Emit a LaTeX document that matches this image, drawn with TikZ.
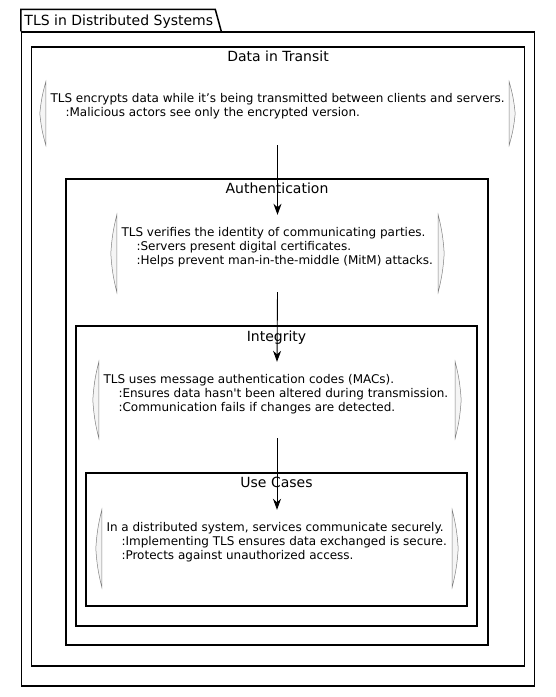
\documentclass[tikz,border=0pt]{standalone}
\usepackage{fontspec}
\setmainfont{DejaVu Sans}
\usetikzlibrary{arrows.meta, positioning, calc}

\newcommand{\ind}{\hspace*{15pt}}

\begin{document}
\begin{tikzpicture}[
    x=1pt, y=-1pt,
    frame/.style={draw=black, line width=1.5pt, rectangle, inner sep=0pt},
    frametitle/.style={font=\fontsize{14}{16}\selectfont, inner sep=0pt},
    note/.style={rectangle, inner sep=0pt},
    notetext/.style={font=\fontsize{12}{14}\selectfont, align=left, inner sep=0pt, anchor=north west},
    bracket/.style={draw=black!50, fill=black!4, line width=0.5pt},
    flow/.style={-{Stealth[length=11pt, width=8pt, inset=3.5pt]}, line width=0.9pt}
]
\useasboundingbox (0,0) rectangle (555,697);

% --- Package: TLS in Distributed Systems ---
\node[frame, minimum width=513pt, minimum height=654pt] (pkg) at (278,359) {};
\draw[frame] (pkg.north west) -- ++(0,-22) -- ++(194.5,0) -- ++(6,22);
\node[frametitle, anchor=base west] (pkgtitle) at ([xshift=3.5pt, yshift=6pt]pkg.north west) {TLS in Distributed Systems};

% --- Containers (nested) ---
\node[frame, minimum width=493pt, minimum height=619pt] (transitbox) at (278,356.5) {};
\node[frametitle, below=4pt of transitbox.north] (transittitle) {Data in Transit};

\node[frame, minimum width=422pt, minimum height=466pt] (authbox) at (277,412) {};
\node[frametitle, below=4.5pt of authbox.north] (authtitle) {Authentication};

\node[frame, minimum width=401pt, minimum height=300pt] (integbox) at (276.5,476) {};
\node[frametitle, below=5pt of integbox.north] (integtitle) {Integrity};

\node[frame, minimum width=381pt, minimum height=133pt] (usecasebox) at (276.5,539.5) {};
\node[frametitle, below=5pt of usecasebox.north] (usecasetitle) {Use Cases};

% --- Notes ---
\node[note, minimum width=463pt, minimum height=63pt] (transit) at (277.5,113.5) {};
\node[note, minimum width=321pt, minimum height=77pt] (auth) at (277.5,253.5) {};
\node[note, minimum width=356pt, minimum height=76pt] (integ) at (277,400) {};
\node[note, minimum width=350pt, minimum height=77pt] (usecase) at (277,548.5) {};

% brackets on both sides of each note
\foreach \n in {transit, auth, integ, usecase} {
    \draw[bracket] (\n.north west) to[bend right=5] ([xshift=-6pt]\n.west)
        to[bend right=5] (\n.south west) -- cycle;
    \draw[bracket] (\n.north east) to[bend left=5] ([xshift=6pt]\n.east)
        to[bend left=5] (\n.south east) -- cycle;
}

\node[notetext] (transittext) at ([xshift=4.5pt, yshift=-11pt]transit.north west) {
    TLS encrypts data while it’s being transmitted between clients and servers.\\
    \ind:Malicious actors see only the encrypted version.
};
\node[notetext] (authtext) at ([xshift=4.5pt, yshift=-12.5pt]auth.north west) {
    TLS verifies the identity of communicating parties.\\
    \ind:Servers present digital certificates.\\
    \ind:Helps prevent man-in-the-middle (MitM) attacks.
};
\node[notetext] (integtext) at ([xshift=4.5pt, yshift=-12.5pt]integ.north west) {
    TLS uses message authentication codes (MACs).\\
    \ind:Ensures data hasn\textquotesingle t been altered during transmission.\\
    \ind:Communication fails if changes are detected.
};
\node[notetext] (usecasetext) at ([xshift=4.5pt, yshift=-12.5pt]usecase.north west) {
    In a distributed system, services communicate securely.\\
    \ind:Implementing TLS ensures data exchanged is secure.\\
    \ind:Protects against unauthorized access.
};

% --- Flow between notes ---
\draw[flow] (transit.south) -- (auth.north);
\draw[flow] (auth.south) -- (integ.north);
\draw[flow] (integ.south) -- (usecase.north);

\end{tikzpicture}
\end{document}
